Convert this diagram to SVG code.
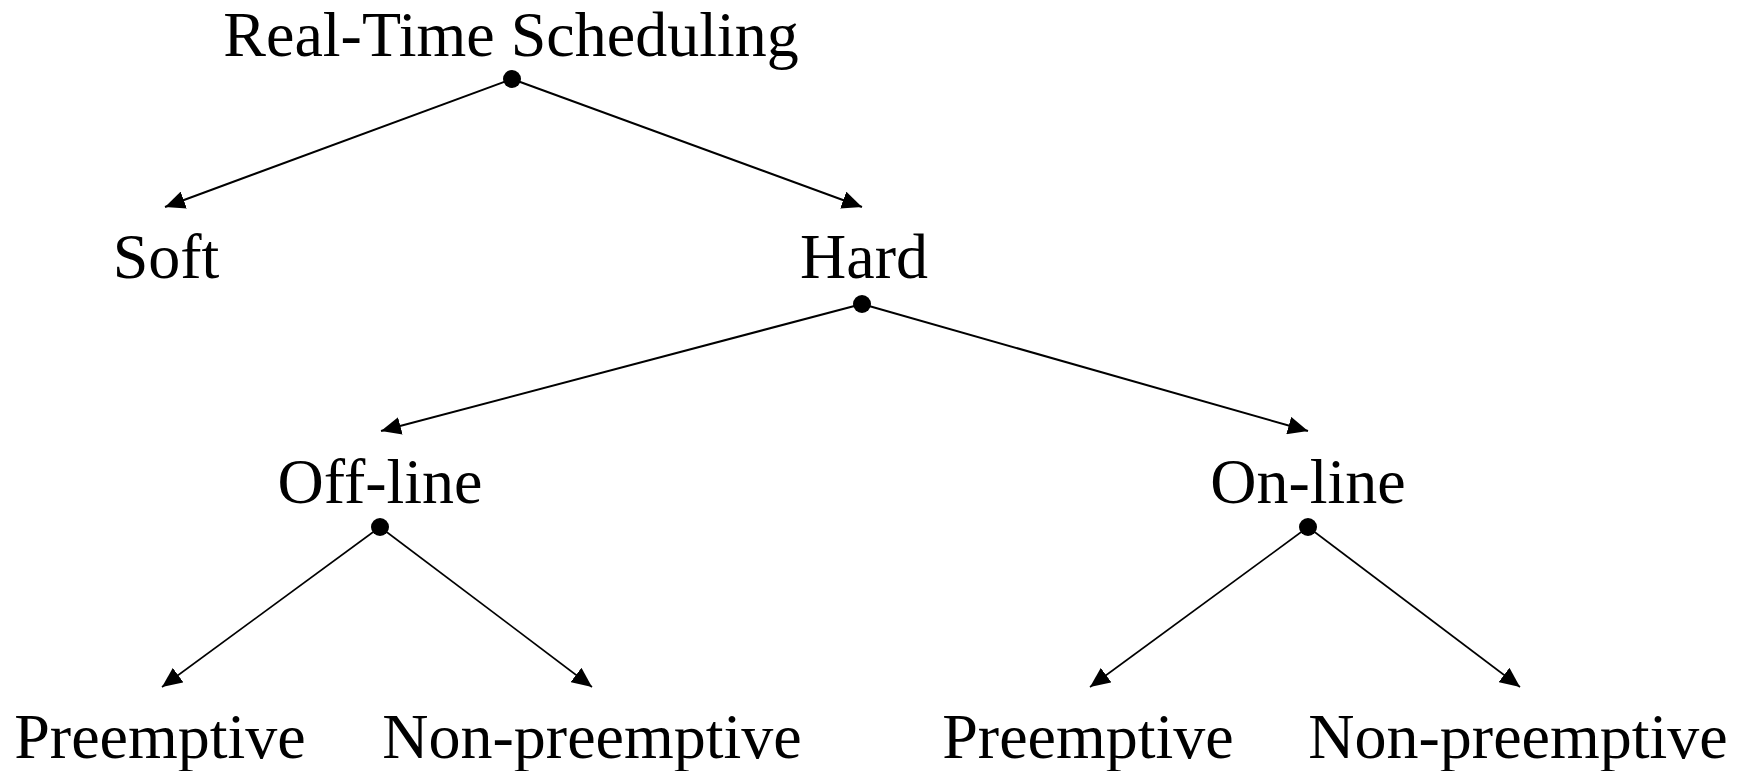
<svg xmlns="http://www.w3.org/2000/svg" width="1747" height="771" viewBox="0 0 1747 771">
  <style>
    .label { font-family: "Liberation Serif", "Times New Roman", serif; font-size: 64px; fill: #000; text-anchor: middle; }
    .edge { stroke: #000; stroke-width: 2; fill: none; marker-end: url(#arrow); }
    .edge.thin { stroke-width: 1.6; }
    .dot { fill: #000; }
  </style>
  <defs>
    <marker id="arrow" viewBox="0 0 20 18" refX="20" refY="9" markerWidth="20" markerHeight="18" markerUnits="userSpaceOnUse" orient="auto">
      <path d="M0,0 L20,9 L0,18 z" fill="#000"/>
    </marker>
  </defs>
  <rect width="1747" height="771" fill="#fff"/>

  <!-- connectors: parent branch point to child label -->
  <g id="connectors">
    <line class="edge" x1="512" y1="79" x2="165" y2="207"/>
    <line class="edge" x1="512" y1="79" x2="862" y2="207"/>
    <line class="edge" x1="862" y1="304" x2="381" y2="431"/>
    <line class="edge" x1="862" y1="304" x2="1308" y2="431"/>
    <line class="edge thin" x1="380" y1="527" x2="162" y2="687"/>
    <line class="edge thin" x1="380" y1="527" x2="592" y2="687"/>
    <line class="edge thin" x1="1308" y1="527" x2="1090" y2="687"/>
    <line class="edge thin" x1="1308" y1="527" x2="1520" y2="687"/>
  </g>

  <g id="node-realtime">
    <text class="label" x="511" y="56">Real-Time Scheduling</text>
    <circle class="dot" cx="512" cy="79" r="9"/>
  </g>
  <g id="node-soft">
    <text class="label" x="166" y="278">Soft</text>
  </g>
  <g id="node-hard">
    <text class="label" x="864" y="278">Hard</text>
    <circle class="dot" cx="862" cy="304" r="9"/>
  </g>
  <g id="node-offline">
    <text class="label" x="380" y="503">Off-line</text>
    <circle class="dot" cx="380" cy="527" r="9"/>
  </g>
  <g id="node-online">
    <text class="label" x="1308" y="503">On-line</text>
    <circle class="dot" cx="1308" cy="527" r="9"/>
  </g>
  <g id="node-offline-preemptive">
    <text class="label" x="160" y="758">Preemptive</text>
  </g>
  <g id="node-offline-nonpreemptive">
    <text class="label" x="592" y="758">Non-preemptive</text>
  </g>
  <g id="node-online-preemptive">
    <text class="label" x="1088" y="758">Preemptive</text>
  </g>
  <g id="node-online-nonpreemptive">
    <text class="label" x="1518" y="758">Non-preemptive</text>
  </g>
</svg>
